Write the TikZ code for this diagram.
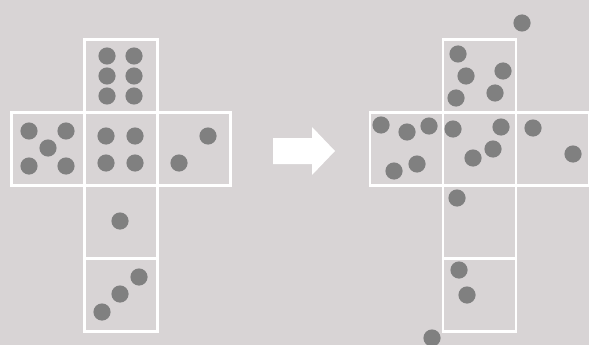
\documentclass[tikz,border=0pt]{standalone}
\usepackage{xcolor}
\usetikzlibrary{calc}
\definecolor{bggray}{RGB}{216,212,213}
\definecolor{pipgray}{RGB}{128,128,128}
\tikzset{
  facebox/.style={draw=white, line width=2.6pt},
  pip/.style={fill=pipgray},
  movearrow/.style={fill=white},
}
\newcommand{\piprad}{8.6}
\newcommand{\facesize}{73}

\begin{document}
\begin{tikzpicture}[x=1pt, y=-1pt]

  %% Background
  \fill[bggray] (0,0) rectangle (589,345);
  \useasboundingbox (0,0) rectangle (589,345);

  %% Left net (ordered dice)
  \foreach \c/\r in {1/0, 0/1, 1/1, 2/1, 1/2, 1/3}
    \draw[facebox] ({11.3+\facesize*\c},{39.3+\facesize*\r})
      rectangle ++(\facesize,\facesize);

  \foreach \px/\py in {107/56, 134/56, 107/76, 134/76, 107/96, 134/96,
      29/131, 66/131, 48/148, 29/166, 66/166,
      106/136, 135/136, 106/163, 135/163,
      208/136, 179/163,
      120/221,
      139/277, 120/294, 102/312}
    \fill[pip] (\px,\py) circle (\piprad);

  %% Arrow
  \fill[movearrow] (273,138) -- (312,138) -- (312,127) -- (335,151)
    -- (312,175) -- (312,164) -- (273,164) -- cycle;

  %% Right net (scattered pips)
  \foreach \c/\r in {1/0, 0/1, 1/1, 2/1, 1/2, 1/3}
    \draw[facebox] ({369.8+\facesize*\c},{39.3+\facesize*\r})
      rectangle ++(\facesize,\facesize);

  \foreach \px/\py in {522/23,
      458/54, 466/76, 503/71, 456/98, 495/93,
      381/125, 407/132, 429/126, 453/129, 501/127, 533/128,
      573/154, 473/158, 493/149, 417/164, 394/171,
      457/198, 459/270, 467/295, 432/338}
    \fill[pip] (\px,\py) circle (\piprad);

\end{tikzpicture}
\end{document}
